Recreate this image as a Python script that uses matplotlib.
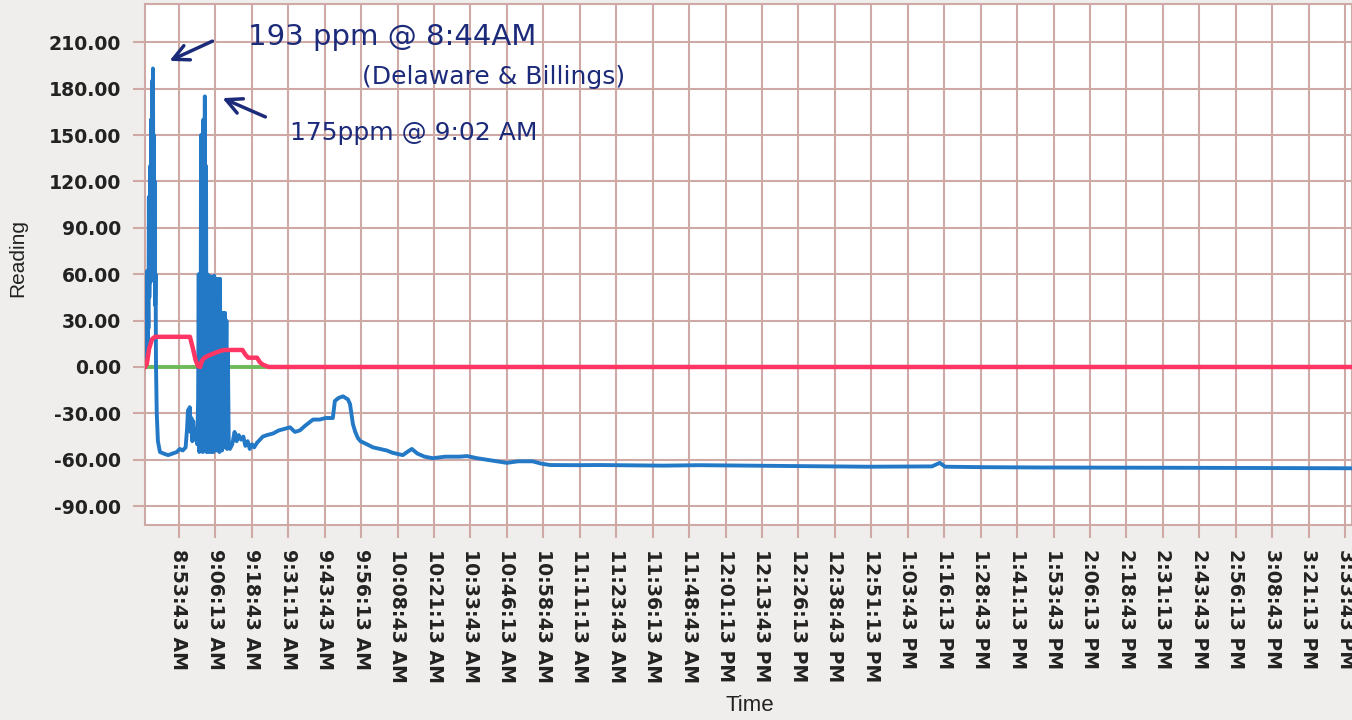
import matplotlib
matplotlib.use("Agg")
import matplotlib.pyplot as plt
from datetime import datetime

# readings, time in minutes after 8:00 AM
blue_t = [42.0, 42.2, 42.35, 42.5, 42.65, 42.8, 42.95, 43.1, 43.25, 43.4, 43.55, 43.7, 43.85,
          44.0, 44.15, 44.3, 44.5, 44.65, 44.8, 44.95, 45.1, 45.25, 45.4, 45.55, 45.7, 45.85,
          46.1, 46.5, 47.2, 48.5, 50.0, 51.5, 53.0, 54.0, 55.0,
          56.0, 56.5, 56.8, 57.1, 57.4, 57.7, 58.0, 58.3, 58.6, 58.9, 59.2, 59.6, 60.0,
          60.3, 60.5, 60.7, 60.9, 61.1, 61.3, 61.5, 61.7, 61.9, 62.1, 62.3, 62.6, 62.8, 63.0,
          63.2, 63.4, 63.6, 63.8, 64.0, 64.2, 64.4, 64.6, 64.8, 65.0, 65.2, 65.4, 65.6, 65.8,
          66.0, 66.2, 66.4, 66.6, 66.8, 67.0, 67.2, 67.4, 67.6, 67.8, 68.0, 68.3, 68.5, 68.7,
          68.9, 69.1, 69.3, 69.5, 69.7, 70.0, 70.2, 70.5, 70.8, 71.2,
          72.0, 72.8, 73.5, 74.2, 75.0, 75.8, 76.5, 77.3, 78.0, 78.8, 79.5, 80.5, 81.5, 82.5,
          84.0, 86.0, 88.0, 90.0, 91.8, 93.5, 95.2, 97.0, 99.7, 102.0, 104.0, 106.5, 107.2,
          108.5, 110.0, 111.7, 112.4, 113.4, 114.2, 115.1, 116.0, 118.2, 120.3, 122.7, 125.0,
          127.0, 130.5, 132.0, 133.6, 135.5, 138.0, 140.8, 145.0, 150.0, 152.5, 156.0, 159.4,
          163.0, 166.2, 170.0, 175.0, 178.0, 181.0, 190.0, 198.0, 220.0, 232.0, 260.0, 290.0,
          312.0, 314.7, 316.5, 330.0, 350.0, 400.0, 456.0]
blue_v = [0, 30, 2, 58, 5, 62, 15, 60, 25, 110, 45, 62, 130,
          55, 160, 60, 185, 120, 193, 100, 150, 60, 120, 40, 60, 0,
          -30, -48, -55, -56, -57, -56, -55, -53, -54,
          -52, -40, -28, -35, -26, -42, -33, -48, -35, -44, -47, -40, -50,
          -20, 60, -55, 40, -50, 150, -45, 120, -55, 160, -30, 175, -50, 130,
          -55, 60, -40, 58, -55, 59, -45, 55, -55, 58, -50, 50, -55, 59,
          -45, 57, -52, 40, -54, 57, -48, 55, -55, 57, -50, 30, -54, 35,
          -40, 33, -52, 35, -45, 30, -53, 10, -50, -53,
          -50, -42, -48, -44, -47, -45, -51, -48, -53, -50, -52, -49, -47, -45,
          -44, -43, -41, -40, -39, -42, -41, -38, -34, -34, -33, -33, -22,
          -20, -19, -21, -24, -37, -42, -46, -48, -50, -52, -53, -54,
          -55.5, -57, -55, -53, -56, -58, -59, -58, -58, -57.6, -59, -60,
          -61, -62, -61, -61, -62.5, -63.4, -63.5, -63.4, -63.8, -63.5, -64, -64.5,
          -64.3, -62, -64.5, -64.8, -65, -65.2, -65.5]

red_t = [42.0, 42.7, 43.5, 44.5, 45.5, 57.5, 58.5, 59.5, 60.3, 61.0, 61.6, 62.5, 64.0,
         66.0, 68.0, 69.5, 75.5, 76.5, 77.5, 80.5, 81.5, 82.5, 84.5, 456.0]
red_v = [0, 2, 12, 18, 19.5, 19.5, 12, 4, 0.5, 0, 4, 6, 7.5,
         9, 10.5, 11, 11, 8, 6, 6, 3, 1.5, 0, 0]

green_t = [42.0, 456.0]
green_v = [0, 0]

tick_labels = ["8:53:43 AM", "9:06:13 AM", "9:18:43 AM", "9:31:13 AM", "9:43:43 AM",
               "9:56:13 AM", "10:08:43 AM", "10:21:13 AM", "10:33:43 AM", "10:46:13 AM",
               "10:58:43 AM", "11:11:13 AM", "11:23:43 AM", "11:36:13 AM", "11:48:43 AM",
               "12:01:13 PM", "12:13:43 PM", "12:26:13 PM", "12:38:43 PM", "12:51:13 PM",
               "1:03:43 PM", "1:16:13 PM", "1:28:43 PM", "1:41:13 PM", "1:53:43 PM",
               "2:06:13 PM", "2:18:43 PM", "2:31:13 PM", "2:43:43 PM", "2:56:13 PM",
               "3:08:43 PM", "3:21:13 PM", "3:33:43 PM"]
y_ticks = [-90, -60, -30, 0, 30, 60, 90, 120, 150, 180, 210]


def minutes_after_8(label):
    t = datetime.strptime(label, "%I:%M:%S %p")
    return t.hour * 60 + t.minute + t.second / 60 - 480


tick_pos = [minutes_after_8(s) for s in tick_labels]

grid_col = "#cfa9a6"
ink = "#1c2a7a"
txt = "#222222"

fig = plt.figure(figsize=(13.52, 7.2), dpi=100, facecolor="#efeeec")
ax = fig.add_axes([0.1072, 0.2708, 0.8928, 0.7236])
ax.set_facecolor("white")

ax.plot(green_t, green_v, color="#6dba5a", lw=2.8, zorder=3)
ax.plot(blue_t, blue_v, color="#2479c6", lw=2.8, zorder=4, solid_joinstyle="round")
ax.plot(red_t, red_v, color="#ff3564", lw=3.2, zorder=5)

ax.set_xlim(42.05, 456.1)
ax.set_ylim(-102.2, 234.7)
ax.set_xticks(tick_pos)
ax.set_xticklabels(tick_labels, rotation=-90, fontsize=13.6, fontweight="bold", color=txt)
ax.set_yticks(y_ticks)
ax.set_yticklabels([f"{v:.2f}" for v in y_ticks], fontsize=13.6, fontweight="bold", color=txt)
ax.tick_params(axis="both", color=grid_col, length=9, width=1.5, pad=8)
ax.grid(True, color=grid_col, lw=1.5)
ax.set_axisbelow(True)
for s in ax.spines.values():
    s.set_color(grid_col)
    s.set_linewidth(1.5)

ax.set_xlabel("Time", fontsize=16, family="Liberation Sans", color=txt)
ax.xaxis.set_label_coords(0.501, -0.3455)
ax.xaxis.label.set_va("center")
ax.set_ylabel("Reading", fontsize=15, family="Liberation Sans", color=txt)
ax.yaxis.set_label_coords(-0.105, 0.5125)
ax.yaxis.label.set_va("center")

# handwritten notes
ax.text(0.0853, 0.9367, "193 ppm @ 8:44AM", transform=ax.transAxes, fontsize=21,
        color=ink, ha="left", va="center")
ax.text(0.1798, 0.860, "(Delaware & Billings)", transform=ax.transAxes, fontsize=18,
        color=ink, ha="left", va="center")
ax.text(0.1201, 0.7524, "175ppm @ 9:02 AM", transform=ax.transAxes, fontsize=18,
        color=ink, ha="left", va="center")
arrow = dict(arrowstyle="->", color=ink, lw=2.5, mutation_scale=28)
ax.annotate("", xy=(0.0182, 0.8887), xytext=(0.058, 0.931), xycoords="axes fraction",
            textcoords="axes fraction", arrowprops=arrow)
ax.annotate("", xy=(0.0621, 0.8215), xytext=(0.1019, 0.7812), xycoords="axes fraction",
            textcoords="axes fraction", arrowprops=arrow)

fig.savefig("out.png", dpi=100, facecolor=fig.get_facecolor())
